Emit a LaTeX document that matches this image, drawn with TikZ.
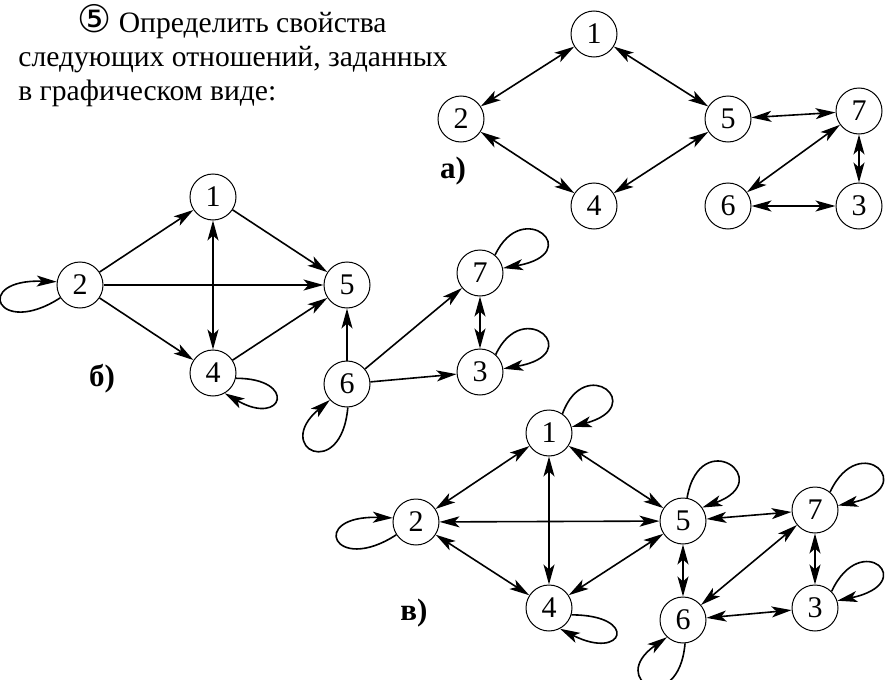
\documentclass[tikz,border=0pt]{standalone}
\usepackage{fontspec}
\setmainfont{Liberation Serif}
\newfontfamily\circfont{DejaVu Sans}
\usetikzlibrary{arrows.meta}

\begin{document}
\begin{tikzpicture}[
  x=0.5pt, y=0.5pt,
  >={Stealth[length=10pt, width=5.5pt, inset=2.5pt]},
  every node/.style={font=\fontsize{14.8}{17}\selectfont},
  vert/.style={draw, circle, line width=0.5pt, minimum size=23pt,
               inner sep=0pt, font=\fontsize{15}{15}\selectfont},
  edge/.style={line width=0.8pt},
  tag/.style={font=\fontsize{15.5}{15}\selectfont\bfseries}
]
  \useasboundingbox (0,0) rectangle (885,-680);

  \node[anchor=north west, align=left, inner sep=0pt] (task) at (18,-4)
    {\hspace*{29.5pt}{\circfont\fontsize{19}{17}\selectfont ⑤} Определить свойства\\
     следующих отношений, заданных\\
     в графическом виде:};

  % a)
  \node[vert] (a1) at (594,-34) {1};
  \node[vert] (a2) at (461,-119) {2};
  \node[vert] (a5) at (728,-119) {5};
  \node[vert] (a4) at (594,-206) {4};
  \node[vert] (a7) at (859,-111) {7};
  \node[vert] (a6) at (728,-206) {6};
  \node[vert] (a3) at (859,-206) {3};
  \node[tag] (la) at (453,-171) {а)};

  \draw[edge, <->] (a1) -- (a2);
  \draw[edge, <->] (a1) -- (a5);
  \draw[edge, <->] (a2) -- (a4);
  \draw[edge, <->] (a4) -- (a5);
  \draw[edge, <->] (a5) -- (a7);
  \draw[edge, <->] (a7) -- (a6);
  \draw[edge, <->] (a7) -- (a3);
  \draw[edge, <->] (a6) -- (a3);

  % b)
  \node[vert] (b1) at (213,-197) {1};
  \node[vert] (b2) at (80,-285) {2};
  \node[vert] (b5) at (347,-285) {5};
  \node[vert] (b4) at (213,-373) {4};
  \node[vert] (b6) at (347,-384) {6};
  \node[vert] (b7) at (480,-273) {7};
  \node[vert] (b3) at (480,-372) {3};
  \node[tag] (lb) at (102,-379) {б)};

  \draw[edge, ->] (b2) -- (b1);
  \draw[edge, ->] (b1) -- (b5);
  \draw[edge, ->] (b2) -- (b5);
  \draw[edge, ->] (b2) -- (b4);
  \draw[edge, <->] (b1) -- (b4);
  \draw[edge, ->] (b4) -- (b5);
  \draw[edge, ->] (b6) -- (b5);
  \draw[edge, ->] (b6) -- (b7);
  \draw[edge, ->] (b6) -- (b3);
  \draw[edge, <->] (b7) -- (b3);
  \draw[edge, ->] (b2.213) .. controls +(213:75) and +(178:85) .. (b2.172);
  \draw[edge, ->] (b4.-13) .. controls +(0:62) and +(-30:68) .. (b4.-60);
  \draw[edge, ->] (b6.-88) .. controls +(-95:75) and +(220:75) .. (b6.223);
  \draw[edge, ->] (b7.50) .. controls +(65:65) and +(10:85) .. (b7.12);
  \draw[edge, ->] (b3.48) .. controls +(65:65) and +(10:85) .. (b3.8);

  % c)
  \node[vert] (c1) at (549,-433) {1};
  \node[vert] (c2) at (416,-522) {2};
  \node[vert] (c5) at (683,-521) {5};
  \node[vert] (c4) at (549,-608) {4};
  \node[vert] (c7) at (815,-510) {7};
  \node[vert] (c6) at (683,-620) {6};
  \node[vert] (c3) at (815,-608) {3};
  \node[tag] (lc) at (414,-613) {в)};

  \draw[edge, <->] (c1) -- (c2);
  \draw[edge, <->] (c1) -- (c5);
  \draw[edge, <->] (c2) -- (c5);
  \draw[edge, <->] (c1) -- (c4);
  \draw[edge, <->] (c2) -- (c4);
  \draw[edge, <->] (c4) -- (c5);
  \draw[edge, <->] (c5) -- (c7);
  \draw[edge, <->] (c5) -- (c6);
  \draw[edge, <->] (c7) -- (c6);
  \draw[edge, <->] (c7) -- (c3);
  \draw[edge, <->] (c6) -- (c3);
  \draw[edge, ->] (c1.55) .. controls +(70:65) and +(15:80) .. (c1.15);
  \draw[edge, ->] (c2.213) .. controls +(213:75) and +(178:85) .. (c2.170);
  \draw[edge, ->] (c4.-17) .. controls +(0:68) and +(-27:72) .. (c4.-62);
  \draw[edge, ->] (c5.80) .. controls +(80:75) and +(20:80) .. (c5.35);
  \draw[edge, ->] (c7.50) .. controls +(65:70) and +(12:85) .. (c7.11);
  \draw[edge, ->] (c3.45) .. controls +(65:70) and +(12:85) .. (c3.18);
  \draw[edge, ->] (c6.-85) .. controls +(-95:75) and +(215:75) .. (c6.227);
\end{tikzpicture}
\end{document}
